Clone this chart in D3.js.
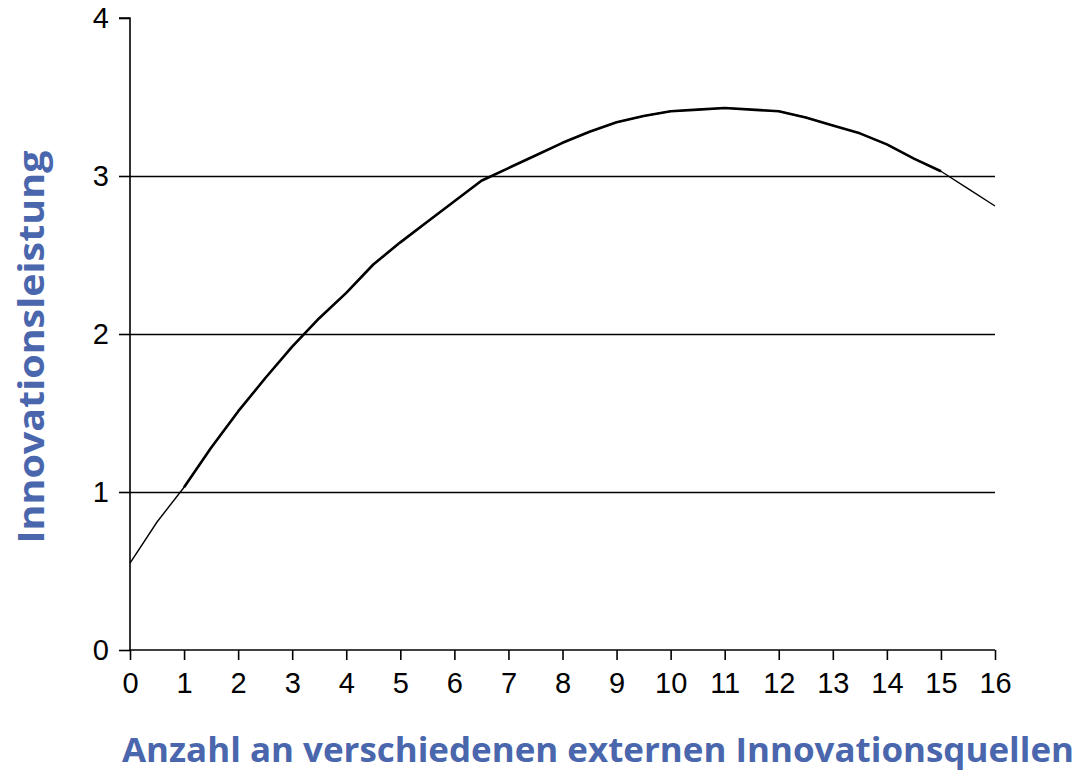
<!DOCTYPE html>
<html><head><meta charset="utf-8">
<script src="https://cdn.jsdelivr.net/npm/d3@7"></script>
<style>body{margin:0;background:#fff}svg{display:block}</style>
</head><body>
<script>
const xValues = [0,0.5,1,1.5,2,2.5,3,3.5,4,4.5,5,5.5,6,6.5,7,7.5,8,8.5,9,9.5,10,10.5,11,11.5,12,12.5,13,13.5,14,14.5,15,15.5,16];
const yValues = [0.55,0.81,1.03,1.28,1.51,1.72,1.92,2.10,2.26,2.44,2.58,2.71,2.84,2.97,3.05,3.13,3.21,3.28,3.34,3.38,3.41,3.42,3.43,3.42,3.41,3.37,3.32,3.27,3.20,3.11,3.03,2.92,2.81];
const xTicks = d3.range(0,17);
const yTicks = [0,1,2,3,4];
const xTitle = "Anzahl an verschiedenen externen Innovationsquellen";
const yTitle = "Innovationsleistung";

const W=1084,H=773;
const svg=d3.select("body").append("svg").attr("width",W).attr("height",H);
const x=d3.scaleLinear().domain([0,16]).range([130,995]);
const y=d3.scaleLinear().domain([0,4]).range([650,18]);

// gridlines
svg.append("g").selectAll("line").data(yTicks.filter(d=>d>0&&d<4)).join("line")
  .attr("x1",x(0)).attr("x2",x(16)).attr("y1",d=>Math.round(y(d))+0.5).attr("y2",d=>Math.round(y(d))+0.5)
  .attr("stroke","#000").attr("stroke-width",1.3);

// axes
const yAxis=svg.append("g").attr("transform",`translate(${x(0)},0)`)
  .call(d3.axisLeft(y).tickValues(yTicks).tickSize(11).tickPadding(10).tickFormat(d3.format("d")));
const xAxis=svg.append("g").attr("transform",`translate(0,${y(0)})`)
  .call(d3.axisBottom(x).tickValues(xTicks).tickSize(10).tickPadding(12).tickFormat(d3.format("d")));
[yAxis,xAxis].forEach(g=>{
  g.attr("font-size",null).attr("font-family",null);
  g.select(".domain").attr("stroke","#000").attr("stroke-width",1.6);
  g.selectAll(".tick line").attr("stroke","#000").attr("stroke-width",1.6);
  g.selectAll("text").style("font-family","'Liberation Sans', Arial, sans-serif").style("font-size","29px").attr("fill","#000");
});
yAxis.select(".domain").attr("d",`M-11,${y(4)}H0V${y(0)}`);
xAxis.select(".domain").attr("d",`M${x(0)},0H${x(16)}`);

// curve
const pts=xValues.map((v,i)=>[v,yValues[i]]);
const line=d3.line().x(d=>x(d[0])).y(d=>y(d[1]));
svg.append("path").datum(pts).attr("d",line).attr("fill","none").attr("stroke","#000").attr("stroke-width",1.4);
svg.append("path").datum(pts.filter(d=>d[0]>=1&&d[0]<=15)).attr("d",line).attr("fill","none").attr("stroke","#000").attr("stroke-width",2.6).attr("stroke-linejoin","round");

// titles
const blue="#4a66ad";
svg.append("text").attr("x",598).attr("y",762).attr("text-anchor","middle")
  .style("font-family","'Open Sans', sans-serif").attr("font-weight",700).style("font-size","34px")
  .attr("fill",blue).attr("textLength",952).attr("lengthAdjust","spacingAndGlyphs").text(xTitle);
svg.append("text").attr("transform","translate(44,347) rotate(-90)").attr("text-anchor","middle")
  .style("font-family","'Open Sans', sans-serif").attr("font-weight",700).style("font-size","36px")
  .attr("fill",blue).attr("textLength",393).attr("lengthAdjust","spacingAndGlyphs").text(yTitle);
</script>
</body></html>
